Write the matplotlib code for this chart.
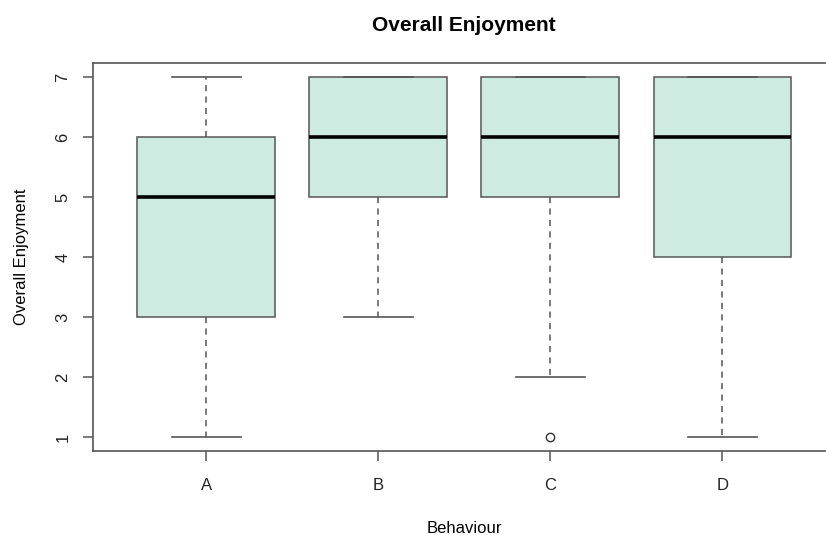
import matplotlib.pyplot as plt

plt.rcParams['font.family'] = ['Liberation Sans', 'DejaVu Sans']

behaviours = ['A', 'B', 'C', 'D']
whis_low = [1, 3, 2, 1]
q1 = [3, 5, 5, 4]
median = [5, 6, 6, 6]
q3 = [6, 7, 7, 7]
whis_high = [7, 7, 7, 7]
outliers = [[], [], [1], []]

stats = []
for i, name in enumerate(behaviours):
    stats.append({'label': name, 'whislo': whis_low[i], 'q1': q1[i], 'med': median[i],
                  'q3': q3[i], 'whishi': whis_high[i], 'fliers': outliers[i]})

fig = plt.figure(figsize=(8.26, 5.35), dpi=100)
ax = fig.add_axes([0.112, 0.1563, 0.9, 0.7267])

edge = '#555555'
ax.bxp(stats, positions=[1, 2, 3, 4], widths=0.8, patch_artist=True,
       boxprops=dict(facecolor='#cdebe0', edgecolor=edge, linewidth=1.1),
       medianprops=dict(color='black', linewidth=2.6, solid_capstyle='butt'),
       whiskerprops=dict(color=edge, linewidth=1.1, linestyle=(0, (4, 3.5))),
       capprops=dict(color=edge, linewidth=1.2),
       capwidths=0.4,
       flierprops=dict(marker='o', markerfacecolor='white', markeredgecolor='#333333',
                       markersize=6, markeredgewidth=1.0))

ax.set_xlim(0.34, 4.66)
ax.set_ylim(0.76, 7.24)
ax.set_yticks(range(1, 8))
ax.set_yticklabels([str(v) for v in range(1, 8)], rotation=90, va='center')

for side in ['left', 'bottom', 'top']:
    ax.spines[side].set_color(edge)
    ax.spines[side].set_linewidth(1.2)
ax.spines['right'].set_visible(False)
ax.tick_params(axis='both', colors=edge, length=7, width=1.1, labelsize=12,
               labelcolor='#222222')
ax.tick_params(axis='x', pad=12)
ax.tick_params(axis='y', pad=9)

ax.set_title('Overall Enjoyment', fontsize=15, fontweight='bold', pad=23)
ax.set_ylabel('Overall Enjoyment', fontsize=12, labelpad=19)
ax.set_xlabel('Behaviour', fontsize=12, labelpad=20)

fig.savefig('out.png', dpi=100)
